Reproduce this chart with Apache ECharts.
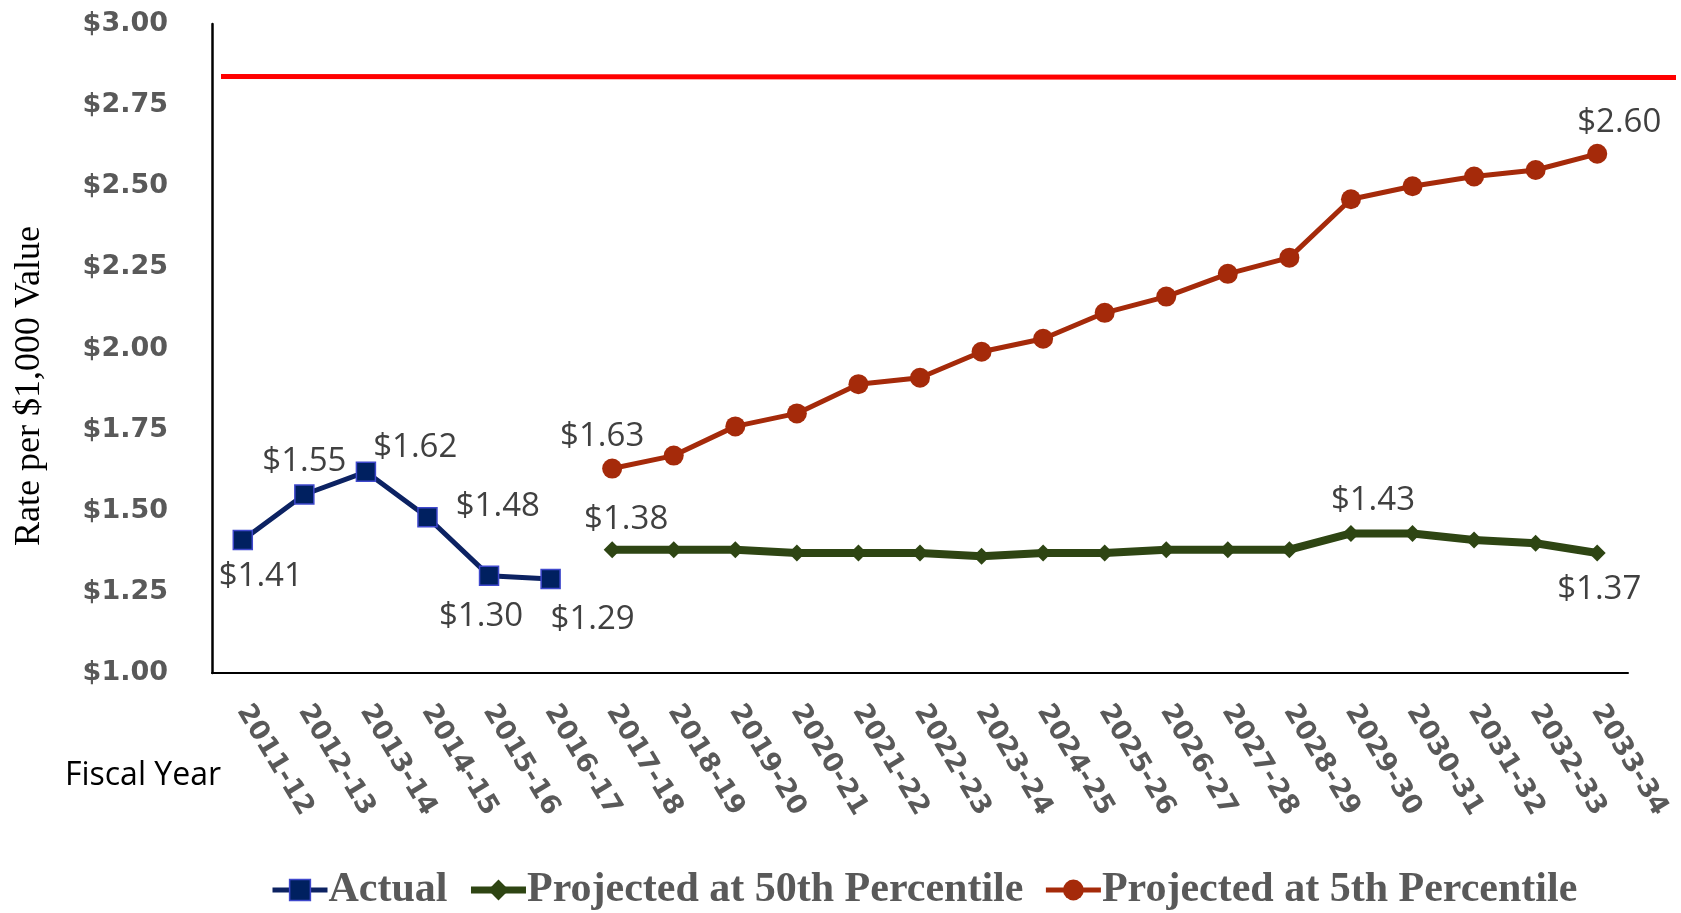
<!DOCTYPE html>
<html>
<head>
<meta charset="utf-8">
<title>Rate per $1,000 Value</title>
<script src="https://cdn.jsdelivr.net/npm/echarts@6/dist/echarts.min.js"></script>
<style>
  html, body { margin: 0; padding: 0; background: #ffffff; }
  #chart { width: 1681px; height: 913px; }
</style>
</head>
<body>
<div id="chart"></div>
<script>
// Fiscal years shown on the category axis
var fiscalYears = ['2011-12', '2012-13', '2013-14', '2014-15', '2015-16', '2016-17', '2017-18',
  '2018-19', '2019-20', '2020-21', '2021-22', '2022-23', '2023-24', '2024-25', '2025-26',
  '2026-27', '2027-28', '2028-29', '2029-30', '2030-31', '2031-32', '2032-33', '2033-34'];

// Actual rates, 2011-12 through 2016-17
var actual = [1.41, 1.55, 1.62, 1.48, 1.30, 1.29];

// Projections start in 2017-18
var projStart = 6;
var projected50 = [1.38, 1.38, 1.38, 1.37, 1.37, 1.37, 1.36, 1.37, 1.37, 1.38, 1.38, 1.38,
  1.43, 1.43, 1.41, 1.40, 1.37];
var projected5 = [1.63, 1.67, 1.76, 1.80, 1.89, 1.91, 1.99, 2.03, 2.11, 2.16, 2.23, 2.28,
  2.46, 2.50, 2.53, 2.55, 2.60];

// Rate ceiling line (left end, right end)
var ceiling = [2.838, 2.835];

// Y axis tick settings
var yMin = 1.00, yMax = 3.00, yStep = 0.25;

var seriesNames = ['Actual', 'Projected at 50th Percentile', 'Projected at 5th Percentile'];

var colors = {
  actualFill: '#002060', actualBorder: '#3f48cc', actualLine: '#0c2262',
  p50: '#2e4513', p5: '#a52a0a', ceiling: '#ff0000'
};

// Which points carry a value label, and where it sits
var labelStyle = {
  fontFamily: 'Open Sans', fontSize: 33, color: '#404040'
};
var actualLabels = {
  0: { position: 'bottom', distance: 10, offset: [18, 0] },
  1: { position: 'top', distance: 6, offset: [0, 0] },
  2: { position: 'right', distance: 0, offset: [-3, -24] },
  3: { position: 'right', distance: 18, offset: [0, -11] },
  4: { position: 'bottom', distance: 14, offset: [-8, 0] },
  5: { position: 'bottom', distance: 14, offset: [42, 0] }
};
var p50Labels = {
  0: { position: 'top', distance: 5, offset: [14, 0] },
  12: { position: 'top', distance: 8, offset: [22, 0] },
  16: { position: 'bottom', distance: 12, offset: [2, 0] }
};
var p5Labels = {
  0: { position: 'top', distance: 5, offset: [-10, 0] },
  16: { position: 'top', distance: 5, offset: [22, 0] }
};

function fmt(v) { return '$' + v.toFixed(2); }

function buildData(values, start, labels) {
  var out = [];
  for (var i = 0; i < fiscalYears.length; i++) {
    var k = i - start;
    if (k < 0 || k >= values.length) { out.push('-'); continue; }
    var item = { value: values[k] };
    if (labels[k]) {
      item.label = Object.assign({ show: true, formatter: function (p) { return fmt(p.value); } },
        labelStyle, labels[k]);
    }
    out.push(item);
  }
  return out;
}

var chart = echarts.init(document.getElementById('chart'));

var option = {
  animation: false,
  backgroundColor: '#ffffff',
  grid: [
    { left: 212, right: 53, top: 24, bottom: 240, containLabel: false },
    { left: 221, right: 5, top: 24, bottom: 240, containLabel: false }
  ],
  xAxis: [
    {
      type: 'category',
      gridIndex: 0,
      data: fiscalYears,
      boundaryGap: true,
      axisLine: { show: true, lineStyle: { color: '#000000', width: 2 } },
      axisTick: { show: false },
      axisLabel: {
        interval: 0,
        rotate: -59,
        margin: 34,
        fontFamily: 'DejaVu Sans',
        fontWeight: 'bold',
        fontSize: 27,
        color: '#595959'
      },
      splitLine: { show: false }
    },
    {
      type: 'value',
      gridIndex: 1,
      min: 0, max: 1,
      show: false
    }
  ],
  yAxis: [
    {
      type: 'value',
      gridIndex: 0,
      min: yMin, max: yMax, interval: yStep,
      axisLine: { show: true, lineStyle: { color: '#000000', width: 2.5 } },
      axisTick: { show: false },
      splitLine: { show: false },
      axisLabel: {
        margin: 44,
        fontFamily: 'DejaVu Sans',
        fontWeight: 'bold',
        fontSize: 27,
        color: '#595959',
        formatter: function (v) { return '$' + v.toFixed(2); }
      }
    },
    {
      type: 'value',
      gridIndex: 1,
      min: yMin, max: yMax,
      show: false
    }
  ],
  legend: {
    data: [
      { name: seriesNames[0], itemStyle: { color: colors.actualFill, borderColor: colors.actualBorder, borderWidth: 1.5 },
        lineStyle: { color: colors.actualLine, width: 5 } },
      { name: seriesNames[1], itemStyle: { color: colors.p50 }, lineStyle: { color: colors.p50, width: 7 } },
      { name: seriesNames[2], itemStyle: { color: colors.p5 }, lineStyle: { color: colors.p5, width: 5 } }
    ],
    left: 265,
    top: 864,
    itemWidth: 55,
    itemHeight: 26,
    itemGap: 20,
    lineStyle: { width: 5 },
    textStyle: {
      fontFamily: 'Liberation Serif',
      fontWeight: 'bold',
      fontSize: 42,
      color: '#595959',
      padding: [0, 0, 0, -4]
    }
  },
  graphic: [
    {
      type: 'text',
      x: 30, y: 386,
      rotation: Math.PI / 2,
      style: {
        text: 'Rate per $1,000 Value',
        fontFamily: 'Liberation Serif',
        fontSize: 36,
        fill: '#000000',
        textAlign: 'center',
        textVerticalAlign: 'middle'
      }
    },
    {
      type: 'text',
      x: 221, y: 776,
      style: {
        text: 'Fiscal Year',
        fontFamily: 'Open Sans',
        fontSize: 32,
        fill: '#000000',
        textAlign: 'right',
        textVerticalAlign: 'middle'
      }
    }
  ],
  series: [
    {
      name: 'Rate ceiling',
      type: 'line',
      xAxisIndex: 1,
      yAxisIndex: 1,
      data: [[0, ceiling[0]], [1, ceiling[1]]],
      symbol: 'none',
      lineStyle: { color: colors.ceiling, width: 5 },
      silent: true
    },
    {
      name: seriesNames[0],
      type: 'line',
      data: buildData(actual, 0, actualLabels),
      symbol: 'rect',
      symbolSize: 19,
      itemStyle: { color: colors.actualFill, borderColor: colors.actualBorder, borderWidth: 1.5 },
      lineStyle: { color: colors.actualLine, width: 5 },
      z: 4
    },
    {
      name: seriesNames[1],
      type: 'line',
      data: buildData(projected50, projStart, p50Labels),
      symbol: 'diamond',
      symbolSize: 17,
      itemStyle: { color: colors.p50 },
      lineStyle: { color: colors.p50, width: 8 },
      z: 3
    },
    {
      name: seriesNames[2],
      type: 'line',
      data: buildData(projected5, projStart, p5Labels),
      symbol: 'circle',
      symbolSize: 20,
      itemStyle: { color: colors.p5 },
      lineStyle: { color: colors.p5, width: 5 },
      z: 3
    }
  ]
};

chart.setOption(option);
</script>
</body>
</html>
